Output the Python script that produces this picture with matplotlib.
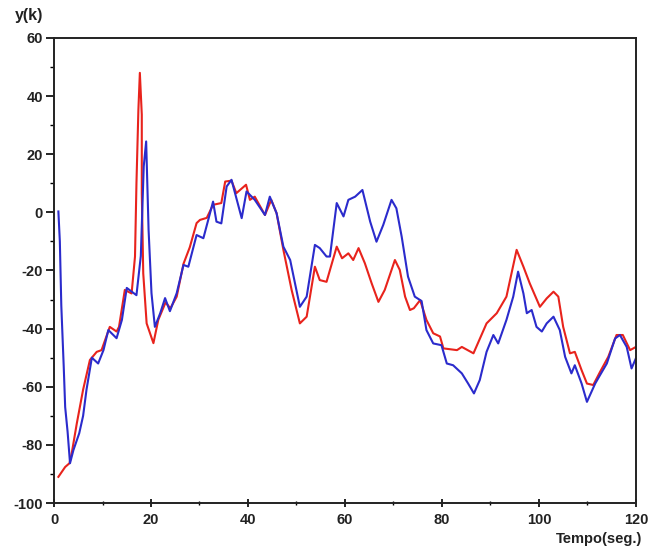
import numpy as np
import matplotlib.pyplot as plt

# values (time in s, output y(k))
t_red = [0.9, 2.3, 3.2, 3.7, 4.7, 6.0, 7.4, 8.8, 9.8, 11.5, 12.9, 13.4, 14.6, 16.0,
         16.7, 17.0, 17.4, 17.7, 18.1, 18.1, 18.4, 19.1, 20.5, 21.5, 23.0, 24.0,
         25.3, 26.7, 28.0, 29.4, 30.1, 31.5, 32.8, 34.5, 35.3, 36.6, 37.6, 39.6,
         40.4, 41.4, 43.5, 44.8, 45.9, 47.3, 49.0, 50.7, 52.1, 53.8, 54.8, 56.2,
         58.3, 59.4, 60.7, 61.7, 62.8, 64.1, 65.5, 66.9, 68.2, 70.3, 71.3, 72.4,
         73.4, 74.2, 75.5, 76.8, 78.2, 79.6, 80.3, 83.1, 84.1, 86.5, 89.2, 91.3,
         93.3, 95.4, 96.8, 98.1, 100.2, 101.6, 103.0, 104.0, 105.0, 106.4, 107.4,
         108.8, 109.9, 111.2, 112.6, 114.3, 116.0, 117.3, 118.8, 120.0]
y_red = [-91, -87.6, -86.3, -82.4, -72.6, -61, -50.8, -48, -47.4, -39.4, -41, -39.4,
         -26.7, -27.9, -15.2, 10, 35.3, 48, 33.6, 6.6, -21, -38.2, -45, -37, -31,
         -33, -29, -17.7, -12, -3.7, -2.6, -1.9, 2.6, 3.2, 10.6, 10.9, 6.6, 9.5,
         4.3, 5.4, -0.9, 4.3, -0.3, -12.9, -26.7, -38.2, -35.9, -18.7, -23.3, -23.9,
         -11.8, -15.8, -14.1, -16.4, -12.3, -17.5, -24.4, -30.8, -26.7, -16.4,
         -19.8, -29, -33.6, -33.0, -30.2, -37, -41.6, -42.7, -46.8, -47.4, -46.3,
         -48.5, -38.2, -34.7, -29, -12.9, -18.7, -24.4, -32.5, -29.6, -27.3, -29,
         -39.4, -48.5, -48, -54.3, -58.9, -59.4, -54.9, -49.7, -42.2, -42.2, -47.4,
         -46.3]

t_blue = [0.9, 1.2, 1.5, 2.0, 2.3, 2.8, 3.3, 4.0, 5.2, 6.0, 6.7, 7.8, 9.1, 10.2, 11.2,
          12.9, 14.0, 15.0, 17.0, 17.9, 18.5, 19.0, 19.5, 20.1, 20.8, 21.9, 22.9,
          23.9, 25.3, 26.7, 27.7, 29.4, 30.8, 32.8, 33.5, 34.5, 35.6, 36.6, 38.7,
          39.7, 41.4, 43.5, 44.5, 45.9, 47.3, 48.7, 50.7, 52.1, 53.8, 54.8, 56.2,
          56.9, 58.3, 59.7, 60.7, 62.1, 63.6, 65.2, 66.5, 67.9, 69.6, 70.6, 71.7,
          73.0, 74.4, 75.8, 76.8, 78.2, 79.9, 81.0, 82.3, 84.1, 85.4, 86.6, 87.8,
          89.2, 90.6, 91.6, 93.3, 94.7, 95.7, 96.8, 97.5, 98.5, 99.5, 100.6, 101.6,
          103.0, 104.3, 105.4, 106.7, 107.4, 108.8, 109.9, 111.6, 112.6, 114.0,
          115.7, 116.7, 118.1, 119.1, 120.0]
y_blue = [0.3, -10, -32, -53, -67, -75.5, -86.3, -81.8, -76, -70, -61, -50, -52,
          -47.4, -40.5, -43.3, -37, -26, -28.5, -15, 15.8, 24.4, -6, -27.8, -39.4,
          -34.7, -29.5, -34, -27.8, -18.1, -18.7, -7.8, -8.9, 3.7, -3.2, -3.8, 8.9,
          11.2, -2, 7.2, 4.3, -0.9, 5.4, -0.3, -11.8, -16.4, -32.5, -29, -11.2,
          -12.3, -15.2, -15.2, 3.2, -1.4, 4.3, 5.4, 7.7, -3.2, -10.1, -4.3, 4.3,
          1.4, -8.4, -22.1, -29, -30.5, -40.5, -45.1, -45.7, -52, -52.6, -55.4,
          -58.9, -62.3, -57.7, -48, -42.2, -45.1, -37, -29, -20.4, -27.9, -34.7,
          -33.6, -39.4, -41, -38.2, -35.9, -40.5, -49.7, -55.4, -52.6, -58.9,
          -65.2, -58.9, -56, -52, -43.4, -42.2, -46.3, -53.7, -50.2]

x_ticks = [0, 20, 40, 60, 80, 100, 120]
y_ticks = [-100, -80, -60, -40, -20, 0, 20, 40, 60]

fig = plt.figure(figsize=(6.62, 5.51), dpi=100)
ax = fig.add_axes([0.0816, 0.0871, 0.879, 0.844])

ax.plot(t_red, y_red, color='#e8231c', lw=1.5)
ax.plot(t_blue, y_blue, color='#2b2bcc', lw=1.5)

ax.set_xlim(0, 120)
ax.set_ylim(-100, 60)
ax.set_xticks(x_ticks)
ax.set_yticks(y_ticks)
ax.set_xticks(np.arange(10, 120, 20), minor=True)
ax.set_yticks(np.arange(-90, 60, 20), minor=True)

fnt = dict(family='Liberation Sans', weight='bold', size=10.5)
ax.set_xticklabels([str(v) for v in x_ticks], fontdict=fnt, color='#222222')
ax.set_yticklabels([str(v) for v in y_ticks], fontdict=fnt, color='#222222')
ax.tick_params(axis='x', direction='inout', length=6, width=1.2, pad=4)
ax.tick_params(axis='x', which='minor', direction='inout', length=3, width=1)
ax.tick_params(axis='y', direction='out', length=6, width=1.2, pad=2)
ax.tick_params(axis='y', which='minor', direction='out', length=3, width=1)

for s in ax.spines.values():
    s.set_linewidth(1.4)
    s.set_color('#222222')

fig.text(0.023, 0.963, 'y(k)', family='Liberation Sans', weight='bold',
         size=11.5, color='#222222')
fig.text(0.97, 0.014, 'Tempo(seg.)', fontdict=fnt, color='#222222', ha='right')

fig.savefig('out.png', dpi=100)
